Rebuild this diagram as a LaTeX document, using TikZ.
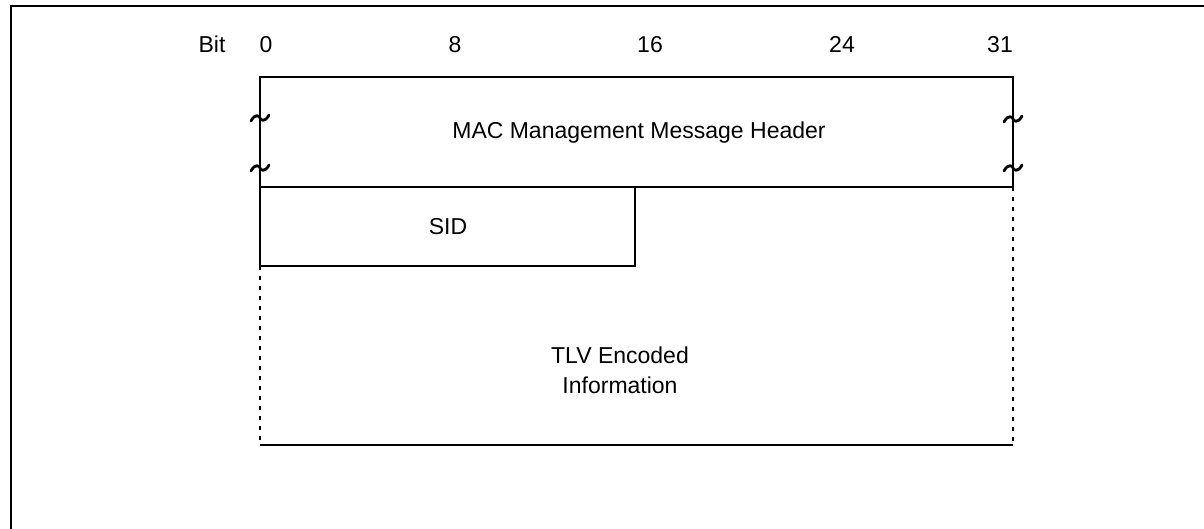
\documentclass[tikz,border=0pt]{standalone}
\usepackage{fontspec}
\setmainfont{Liberation Sans}
\begin{document}
\begin{tikzpicture}[x=1pt,y=-1pt,
  lbl/.style={inner sep=0pt,font=\fontsize{23}{27}\selectfont},
  bitlbl/.style={lbl,anchor=base},
  boxline/.style={line width=2pt},
  dotline/.style={line width=2pt,dash pattern=on 4pt off 6pt},
  tildemark/.style={line width=2.8pt,line cap=round}]
\useasboundingbox (0,0) rectangle (1204,529);
% outer frame
\draw[line width=2.6pt] (11,529) -- (11,6) -- (1204,6);
% bit labels
\node[bitlbl] (bit) at (212,53) {Bit};
\node[bitlbl] (b0) at (266,53) {0};
\node[bitlbl] (b8) at (455,53) {8};
\node[bitlbl] (b16) at (650,53) {16};
\node[bitlbl] (b24) at (842,53) {24};
\node[bitlbl] (b31) at (1000,53) {31};
% coordinates
\coordinate (hTL) at (260,77);
\coordinate (hTR) at (1013,77);
\coordinate (hBL) at (260,187);
\coordinate (hBR) at (1013,187);
\coordinate (sBR) at (635,266);
\coordinate (sBL) at (260,266);
\coordinate (tBL) at (260,445);
\coordinate (tBR) at (1013,445);
% header box
\draw[boxline] (hBL) -- (hTL) -- (hTR) -- (hBR) -- cycle;
\node[lbl] (mac) at (639,133) {MAC Management Message Header};
% tildes
\foreach \x/\y in {260/118,260/168,1013/119,1013/168}{
  \draw[tildemark] (\x-9,\y+3) .. controls (\x-5,\y-5) and (\x,\y-2) .. (\x,\y)
     .. controls (\x,\y+2) and (\x+5,\y+5) .. (\x+9,\y-3);
}
% SID box
\draw[boxline] (hBL) -- (sBL) -- (sBR) -- (635,187);
\node[lbl] (sid) at (448,227) {SID};
% TLV region
\draw[dotline] (sBL) -- (tBL);
\draw[dotline] (hBR) -- (tBR);
\draw[boxline] (tBL) -- (tBR);
\node[lbl,align=center,font=\fontsize{23}{30}\selectfont] (tlv) at (620,370) {TLV Encoded\\Information};
\end{tikzpicture}
\end{document}
